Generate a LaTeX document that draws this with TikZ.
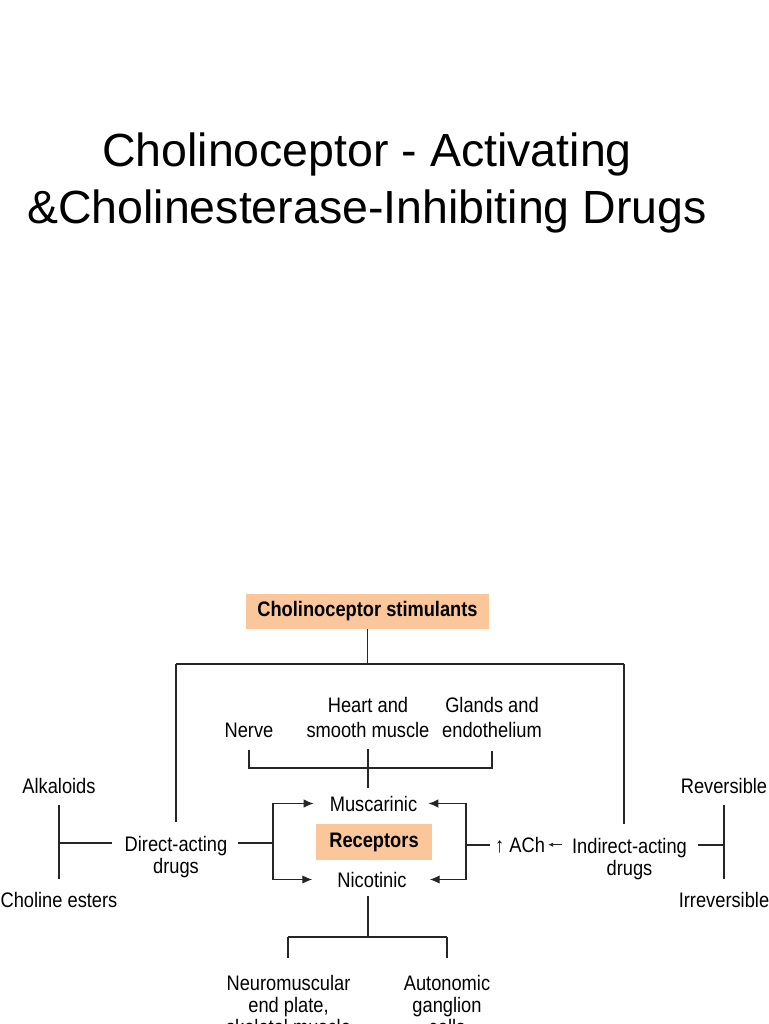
\documentclass[tikz,border=0pt]{standalone}
\usepackage{fontspec}
\setmainfont{Liberation Sans}
\newfontfamily\diagfont[FakeStretch=0.87]{Liberation Sans}
\usetikzlibrary{arrows.meta}
\definecolor{peach}{RGB}{251,199,154}
\begin{document}
\begin{tikzpicture}[x=1pt,y=-1pt,
  titlestyle/.style={inner sep=0pt, anchor=base, font=\fontsize{46.5}{57}\selectfont},
  lbl/.style={inner sep=0pt, align=center, font=\diagfont\fontsize{21}{22}\selectfont},
  peachbox/.style={lbl, font=\diagfont\bfseries\fontsize{21}{22}\selectfont, fill=peach},
  conn/.style={line width=1.3pt, black!85},
  arr/.style={conn, -{Latex[length=10pt,width=8.5pt]}},
  smallarr/.style={line width=0.9pt, black!85, -{Latex[length=5pt,width=4.5pt]}}]
\useasboundingbox (0,0) rectangle (768,1024);
\fill[white] (0,0) rectangle (768,1024);

% title
\node[titlestyle] (t1) at (367,167) {Cholinoceptor - Activating};
\node[titlestyle] (t2) at (367,224) {\&Cholinesterase-Inhibiting Drugs};

% boxes
\node[peachbox, minimum width=243pt, minimum height=35pt] (stim) at (367.5,611.5) {Cholinoceptor stimulants};
\node[peachbox, minimum width=116pt, minimum height=36pt] (recep) at (374,842) {Receptors};

% labels
\node[lbl, anchor=base] (nerve) at (249,737) {Nerve};
\node[lbl, anchor=north] (heart) at (368,697) {Heart and\\[3pt]smooth muscle};
\node[lbl, anchor=north] (glands) at (492,697) {Glands and\\[3pt]endothelium};
\node[lbl, anchor=base] (alk) at (59,793) {Alkaloids};
\node[lbl, anchor=base] (chol) at (59,907) {Choline esters};
\node[lbl, anchor=north] (direct) at (176,836) {Direct-acting\\drugs};
\node[lbl, anchor=base] (musc) at (373.5,811) {Muscarinic};
\node[lbl, anchor=base] (nic) at (372,887) {Nicotinic};
\node[lbl, anchor=base west] (ach) at (495,852) {↑ ACh};
\node[lbl, anchor=north] (indirect) at (629.5,837.7) {Indirect-acting\\drugs};
\node[lbl, anchor=base] (rev) at (724,793) {Reversible};
\node[lbl, anchor=base] (irrev) at (724,907) {Irreversible};
\node[lbl, anchor=north] (nm) at (288.5,975) {Neuromuscular\\end plate,\\skeletal muscle};
\node[lbl, anchor=north] (auto) at (447,975) {Autonomic\\ganglion\\cells};

% junction coordinates
\coordinate (tl) at (176,664);
\coordinate (tr) at (624,664);
\coordinate (bl) at (249,768);
\coordinate (br) at (492,768);
\coordinate (ljunc) at (59,843);
\coordinate (lbx) at (273,843);
\coordinate (rbx) at (466,845);
\coordinate (rjunc) at (724,845);
\coordinate (bm) at (368,937);
\coordinate (bbl) at (288,937);
\coordinate (bbr) at (447,937);

% top tree
\draw[conn] (stim.south) -- (stim.south |- tl);
\draw[conn] (tl) -- (tr);
\draw[conn, shorten >=14pt] (tl) -- (tl |- direct.north);
\draw[conn, shorten >=14pt] (tr) -- (tr |- indirect.north);

% tissue bracket
\draw[conn, shorten <=13pt, shorten >=13pt] (nerve.south) -- (bl) -- (br) -- (glands.south);
\draw[conn, shorten <=11pt, shorten >=8pt] (heart.south) -- (heart.south |- musc.north);

% left side
\draw[conn, shorten <=12pt, shorten >=13pt] (alk.south) -- (chol.north);
\draw[conn, shorten >=13pt] (ljunc) -- (ljunc -| direct.west);
\draw[conn, shorten <=11pt] (lbx -| direct.east) -- (lbx);
\draw[arr, shorten >=16pt] (lbx) |- (musc.west);
\draw[arr, shorten >=25pt] (lbx) |- (nic.west);

% right side
\draw[arr, shorten >=11pt] (rbx) |- (musc.east);
\draw[arr, shorten >=23pt] (rbx) |- (nic.east);
\draw[conn, shorten >=5pt] (rbx) -- (rbx -| ach.west);
\draw[smallarr, shorten <=10pt, shorten >=3pt] (ach.east -| indirect.west) -- (ach.east);
\draw[conn, shorten <=11pt] (rjunc -| indirect.east) -- (rjunc);
\draw[conn, shorten <=12pt, shorten >=13pt] (rev.south) -- (irrev.north);

% bottom
\draw[conn, shorten <=9pt] (bm |- nic.south) -- (bm);
\draw[conn] (bbl) -- (bbr);
\draw[conn, shorten >=17pt] (bbl) -- (bbl |- nm.north);
\draw[conn, shorten >=17pt] (bbr) -- (bbr |- auto.north);
\end{tikzpicture}
\end{document}
